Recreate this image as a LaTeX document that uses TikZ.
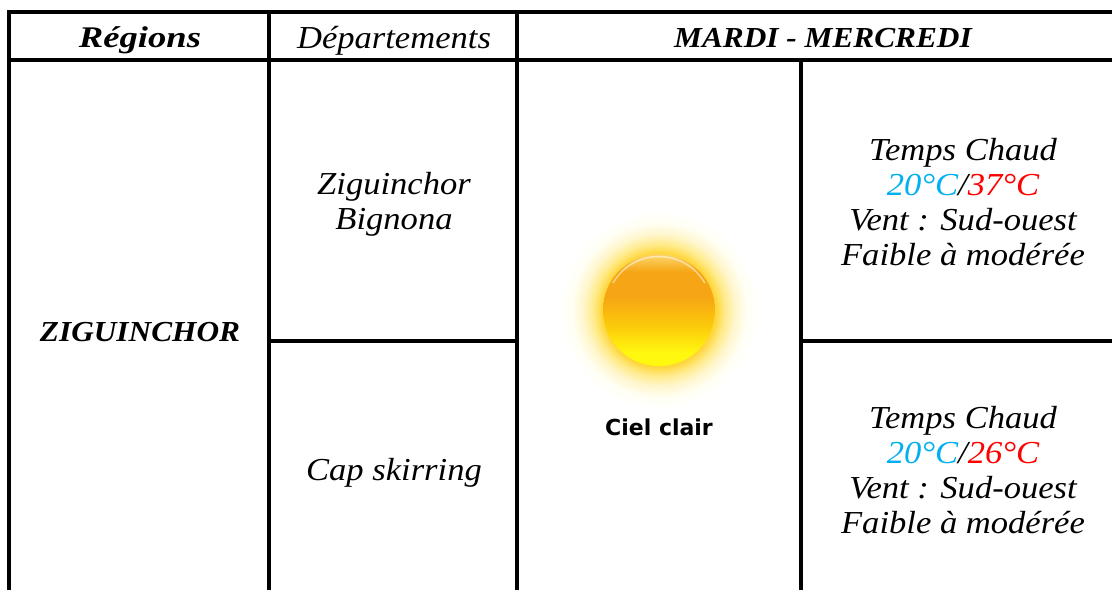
\documentclass[tikz,border=0pt]{standalone}
\usepackage{fontspec}
\setmainfont[FakeStretch=1.08]{Liberation Serif}
\newfontfamily\boldsans{DejaVu Sans}
\definecolor{coolblue}{RGB}{0,176,240}
\definecolor{hotred}{RGB}{255,0,0}
\definecolor{sunorange}{RGB}{246,165,20}
\definecolor{sunmid}{RGB}{252,205,10}
\definecolor{sunyellow}{RGB}{255,248,15}
\definecolor{sunrim}{RGB}{252,210,100}
\definecolor{glowa}{RGB}{255,215,60}
\definecolor{glowb}{RGB}{255,235,140}
\definecolor{glowc}{RGB}{255,246,205}
\tikzset{
  gridline/.style={line width=4pt,black,line cap=butt},
  celltext/.style={align=center,font=\fontsize{32}{35}\selectfont\itshape,inner sep=0pt},
  headbold/.style={align=center,font=\fontsize{29}{35}\selectfont\bfseries\itshape,inner sep=0pt},
  headlarge/.style={align=center,font=\fontsize{30}{35}\selectfont\bfseries\itshape\addfontfeatures{FakeStretch=1.22},inner sep=0pt},
  suncaption/.style={inner sep=0pt,font=\fontsize{22}{26}\selectfont\boldsans\bfseries}
}
\pgfdeclareradialshading{sunglow}{\pgfpoint{0bp}{0bp}}{
  color(0bp)=(glowa);
  color(14.3bp)=(glowa);
  color(16.5bp)=(glowb);
  color(19bp)=(glowc);
  color(22bp)=(white!96!yellow);
  color(25bp)=(white);
  color(50bp)=(white)}
\pgfdeclareverticalshading{sunbody}{100bp}{
  color(0bp)=(sunyellow);
  color(31bp)=(sunyellow);
  color(42bp)=(sunmid);
  color(56bp)=(sunorange);
  color(67bp)=(sunorange);
  color(74bp)=(sunrim);
  color(100bp)=(sunrim)}
\begin{document}
\begin{tikzpicture}[x=1pt,y=-1pt]
\useasboundingbox (0,0) rectangle (1112,590);
\fill[white] (0,0) rectangle (1112,590);
% sun
\shade[shading=sunglow] (659,310) circle (100);
\shade[shading=sunbody] (659,310) circle (56);
\draw[white,opacity=.5,line width=1.5pt] (613,283) arc (210:330:53);
% grid
\draw[gridline] (7,12) -- (1112,12);
\draw[gridline] (9,60) -- (1112,60);
\draw[gridline] (9,10) -- (9,590);
\draw[gridline] (269,10) -- (269,590);
\draw[gridline] (517,10) -- (517,590);
\draw[gridline] (801,60) -- (801,590);
\draw[gridline] (269,341) -- (517,341);
\draw[gridline] (801,341) -- (1112,341);
% text
\node[headlarge] (reg) at (140,40) {Régions};
\node[celltext] (dep) at (394,41) {Départements};
\node[headbold] (jour) at (823,38) {MARDI - MERCREDI};
\node[headbold] (zig) at (140,332) {ZIGUINCHOR};
\node[celltext] (d1) at (394,204.5) {Ziguinchor\\Bignona};
\node[celltext] (d2) at (394,473) {Cap skirring};
\node[suncaption] (cap) at (659,427) {Ciel clair};
\node[celltext] (t1) at (963,202) {Temps Chaud\\\textcolor{coolblue}{20°C}/\textcolor{hotred}{37°C}\\Vent : Sud-ouest\\Faible à modérée};
\node[celltext] (t2) at (963,470) {Temps Chaud\\\textcolor{coolblue}{20°C}/\textcolor{hotred}{26°C}\\Vent : Sud-ouest\\Faible à modérée};
\end{tikzpicture}
\end{document}
